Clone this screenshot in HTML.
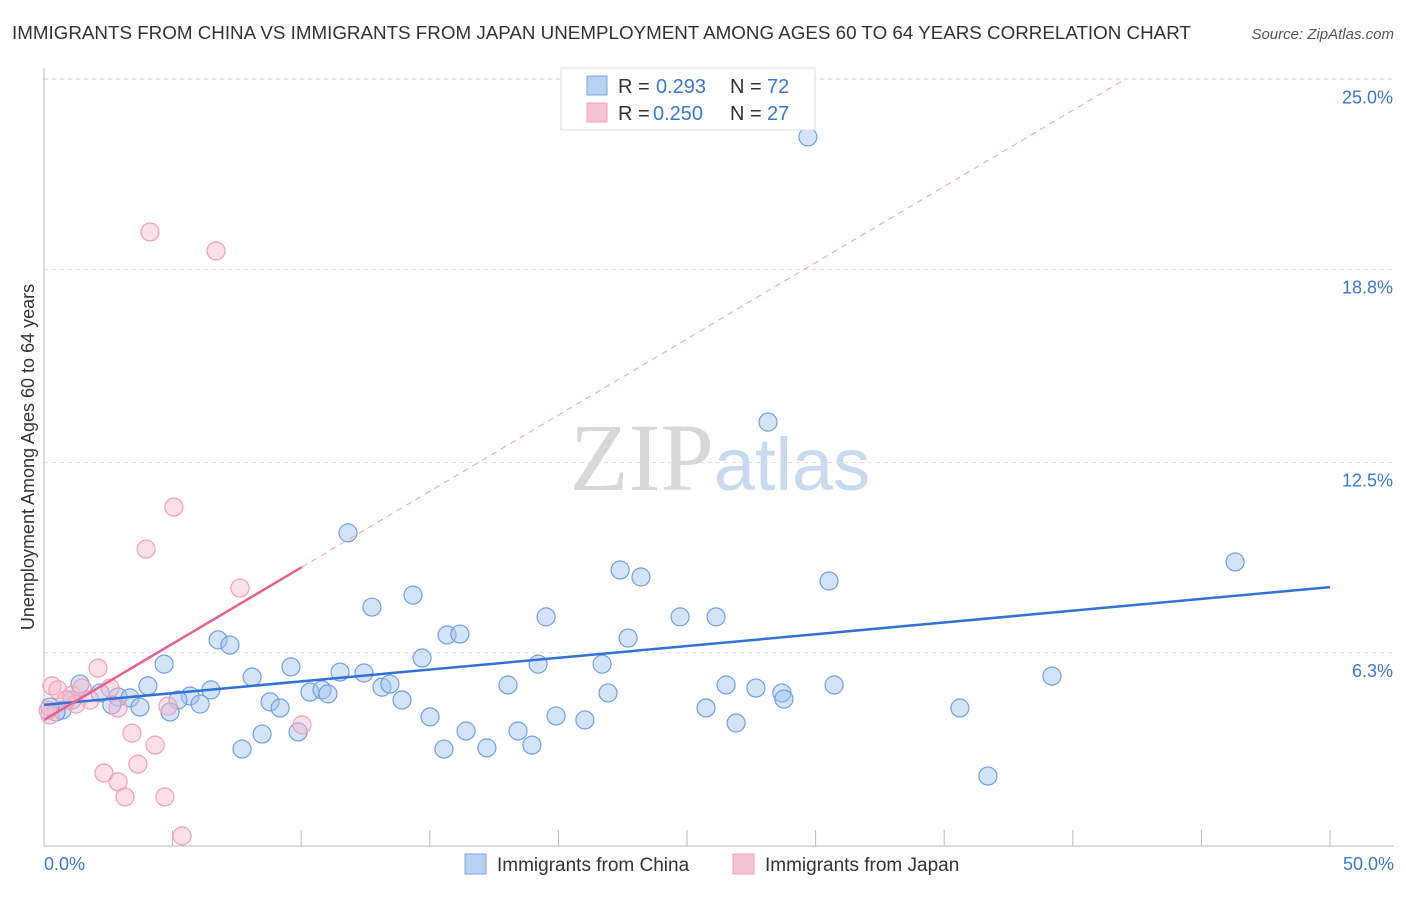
<!DOCTYPE html>
<html><head><meta charset="utf-8"><style>
body{margin:0;background:#fff;font-family:"Liberation Sans",sans-serif;}
</style></head><body>
<svg id="chart" width="1406" height="892" xmlns="http://www.w3.org/2000/svg" font-family="Liberation Sans, sans-serif">
<text x="12" y="39" font-size="18.8" fill="#333">IMMIGRANTS FROM CHINA VS IMMIGRANTS FROM JAPAN UNEMPLOYMENT AMONG AGES 60 TO 64 YEARS CORRELATION CHART</text>
<text x="1394" y="39" font-size="15" fill="#555" text-anchor="end" font-style="italic">Source: ZipAtlas.com</text>
<text x="720" y="490" font-size="96" text-anchor="middle"><tspan fill="#d8d8d8" font-family="Liberation Serif, serif">ZIP</tspan><tspan fill="#c8daf0" font-size="74">atlas</tspan></text>
<text transform="translate(34,457) rotate(-90)" font-size="18" fill="#333" text-anchor="middle">Unemployment Among Ages 60 to 64 years</text>
<g id="grid"></g><g id="marks"></g>
<g>
<rect x="561" y="68" width="254" height="62" fill="#fff" stroke="#ddd"/>
<rect x="587" y="76" width="20" height="19" fill="#b8d2f4" stroke="#7aa6e0"/>
<rect x="587" y="103" width="20" height="19" fill="#f8c4d4" stroke="#f0a0b8"/>
<text x="618" y="93" font-size="20" fill="#333">R =</text>
<text x="656" y="93" font-size="20" fill="#3a78d0">0.293</text>
<text x="730" y="93" font-size="20" fill="#333">N =</text>
<text x="767" y="93" font-size="20" fill="#3a78d0">72</text>
<text x="618" y="120" font-size="20" fill="#333">R =</text>
<text x="653" y="120" font-size="20" fill="#3a78d0">0.250</text>
<text x="730" y="120" font-size="20" fill="#333">N =</text>
<text x="767" y="120" font-size="20" fill="#3a78d0">27</text>
</g>
<g>
<rect x="465" y="854" width="21" height="20" fill="#b8d2f4" stroke="#7aa6e0"/>
<text x="497" y="871" font-size="19" fill="#333">Immigrants from China</text>
<rect x="733" y="854" width="21" height="20" fill="#f8c4d4" stroke="#f0a0b8"/>
<text x="765" y="871" font-size="19" fill="#333">Immigrants from Japan</text>
</g>
</svg>
<script>
const yTicks=[6.3,12.5,18.8,25.0];
const yTickLabels=["6.3%","12.5%","18.8%","25.0%"];
const xTicks=[0,5,10,15,20,25,30,35,40,45,50];
const chinaX=[29.70,28.15,11.82,46.31,22.40,23.21,30.52,14.35,12.75,19.52,24.73,26.13,15.67,16.17,22.71,6.77,7.23,14.70,19.21,21.70,4.67,9.60,11.51,12.44,39.19,8.09,1.40,4.04,26.52,27.68,30.72,18.04,13.14,13.45,6.49,10.34,10.81,11.04,21.93,28.69,28.77,2.18,2.88,3.34,5.68,5.21,8.79,13.92,6.07,2.64,3.73,9.18,4.90,0.70,0.47,25.74,35.61,15.01,19.91,26.91,21.03,8.48,9.88,16.41,18.43,18.97,7.70,15.55,17.22,36.70,1.09,0.23];
const chinaY=[23.12,13.82,10.21,9.26,9.00,8.77,8.64,8.18,7.79,7.47,7.47,7.47,6.88,6.91,6.78,6.72,6.55,6.13,5.93,5.93,5.93,5.84,5.67,5.64,5.54,5.51,5.28,5.22,5.25,5.15,5.25,5.25,5.18,5.28,5.09,5.02,5.09,4.96,4.99,4.99,4.79,4.99,4.86,4.83,4.89,4.76,4.70,4.76,4.63,4.60,4.53,4.50,4.37,4.43,4.37,4.50,4.50,4.21,4.24,4.01,4.11,3.65,3.72,3.75,3.75,3.29,3.16,3.16,3.20,2.28,4.76,4.53];
const japanX=[4.12,6.69,5.05,3.97,7.62,2.10,0.31,0.54,1.09,1.48,2.57,1.79,1.24,2.88,4.82,10.03,0.23,3.42,4.32,2.33,3.65,2.88,3.15,4.70,5.37,0.86,0.16];
const japanY=[20.02,19.40,11.05,9.68,8.41,5.80,5.22,5.09,4.92,5.15,5.15,4.76,4.63,4.50,4.56,3.95,4.27,3.68,3.29,2.38,2.67,2.09,1.60,1.60,0.33,4.76,4.43];
const chinaTrend=[4.60,8.44];
const japanTrend=[4.11,0.497];
const NS="http://www.w3.org/2000/svg";
const sx=v=>44+v*25.72, sy=v=>846-v*30.67;
function mk(t,a,p){const e=document.createElementNS(NS,t);for(const k in a)e.setAttribute(k,a[k]);p.appendChild(e);return e;}
const grid=document.getElementById('grid'),marks=document.getElementById('marks');
yTicks.forEach((t,i)=>{
 const g=mk('line',{x1:44,x2:1394,y1:sy(t),y2:sy(t),stroke:'#ddd','stroke-dasharray':'4,4'},grid);
 
 
 const l=mk('text',{x:1393,y:sy(t)+24,'font-size':18,fill:'#3a78d0','text-anchor':'end'},grid);
 l.textContent=yTickLabels[i];
 
 
});
const topLine=mk('line',{x1:44,x2:1394,y1:79,y2:79,stroke:'#ddd','stroke-dasharray':'4,4'},grid);


const ya=mk('line',{x1:44,x2:44,y1:68,y2:846,stroke:'#bbb'},grid);


const xa=mk('line',{x1:44,x2:1394,y1:846,y2:846,stroke:'#bbb'},grid);


xTicks.forEach(t=>{
 const k=mk('line',{x1:sx(t),x2:sx(t),y1:830,y2:846,stroke:'#bbb'},grid);
 
 
});
[[0,"0.0%",'start',44],[50,"50.0%",'end',1394]].forEach(d=>{
 const l=mk('text',{x:d[3],y:870,'font-size':18,fill:'#3a78d0','text-anchor':d[2]},grid);
 l.textContent=d[1];
 
 
});
chinaX.forEach((x,i)=>{
 const c=mk('circle',{cx:sx(x),cy:sy(chinaY[i]),r:9,fill:'rgba(160,195,240,0.45)',stroke:'#6fa0e0','stroke-width':1.2},marks);
 
 
});
japanX.forEach((x,i)=>{
 const c=mk('circle',{cx:sx(x),cy:sy(japanY[i]),r:9,fill:'rgba(248,185,205,0.45)',stroke:'#f0a0b8','stroke-width':1.2},marks);
 
 
});
const bt=mk('line',{x1:sx(0),y1:sy(chinaTrend[0]),x2:sx(50),y2:sy(chinaTrend[1]),stroke:'#2f72d8','stroke-width':2.5},marks);


const xEnd=(25-japanTrend[0])/japanTrend[1];
const jd=mk('line',{x1:sx(10.03),y1:sy(japanTrend[0]+japanTrend[1]*10.03),x2:sx(xEnd),y2:sy(25),stroke:'#e8a0b8','stroke-width':1,'stroke-dasharray':'6,5'},marks);


const jt=mk('line',{x1:sx(0),y1:sy(japanTrend[0]),x2:sx(10.03),y2:sy(japanTrend[0]+japanTrend[1]*10.03),stroke:'#e8608c','stroke-width':2.5},marks);


</script>
</body></html>
